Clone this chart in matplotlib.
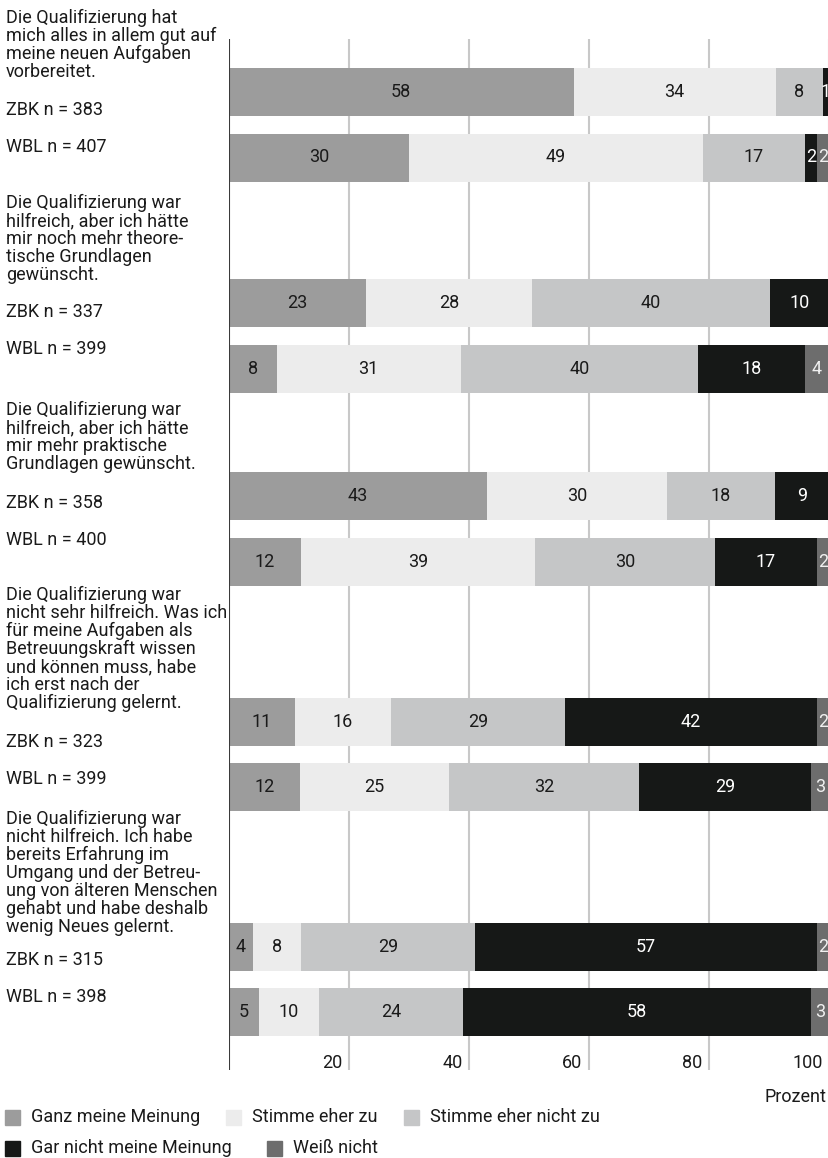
import matplotlib
matplotlib.use('Agg')
import matplotlib.pyplot as plt
from matplotlib.patches import Rectangle
from matplotlib.transforms import blended_transform_factory

plt.rcParams['font.family'] = ['Roboto', 'DejaVu Sans']

categories = ['Ganz meine Meinung', 'Stimme eher zu', 'Stimme eher nicht zu',
              'Gar nicht meine Meinung', 'Weiß nicht']
colors = ['#9c9c9c', '#ececec', '#c5c6c7', '#161817', '#6d6d6d']
label_colors = ['#1a1a1a', '#1a1a1a', '#1a1a1a', '#ffffff', '#f0f0f0']

questions = [
    'Die Qualifizierung hat\nmich alles in allem gut auf\nmeine neuen Aufgaben\nvorbereitet.',
    'Die Qualifizierung war\nhilfreich, aber ich hätte\nmir noch mehr theore-\ntische Grundlagen\ngewünscht.',
    'Die Qualifizierung war\nhilfreich, aber ich hätte\nmir mehr praktische\nGrundlagen gewünscht.',
    'Die Qualifizierung war\nnicht sehr hilfreich. Was ich\nfür meine Aufgaben als\nBetreuungskraft wissen\nund können muss, habe\nich erst nach der\nQualifizierung gelernt.',
    'Die Qualifizierung war\nnicht hilfreich. Ich habe\nbereits Erfahrung im\nUmgang und der Betreu-\nung von älteren Menschen\ngehabt und habe deshalb\nwenig Neues gelernt.',
]
n_zbk = [383, 337, 358, 323, 315]
n_wbl = [407, 399, 400, 399, 398]

# values in percent, order of categories (0 = not shown)
zbk = [
    [58, 34, 8, 1, 0],
    [23, 28, 40, 10, 0],
    [43, 30, 18, 9, 0],
    [11, 16, 29, 42, 2],
    [4, 8, 29, 57, 2],
]
wbl = [
    [30, 49, 17, 2, 2],
    [8, 31, 40, 18, 4],
    [12, 39, 30, 17, 2],
    [12, 25, 32, 29, 3],
    [5, 10, 24, 58, 3],
]
ticks = [20, 40, 60, 80, 100]

# layout (pixels of the 829x1158 canvas)
W, H = 829, 1158
zbk_rows = [0, 3.229, 6.168, 9.618, 13.046]   # row positions in bar pitches
q_first = [17, 202, 409, 594, 818]             # centre of first text line
zbk_lab = [110, 312, 503, 742, 960]
wbl_lab = [147, 349, 540, 779, 997]
fs = 13

fig = plt.figure(figsize=(W / 100, H / 100), dpi=100)
ax_top, ax_bot = 39, 1070
ax = fig.add_axes([229 / W, 1 - ax_bot / H, 600 / W, (ax_bot - ax_top) / H])
pitch = 65.5
ax.set_xlim(0, 100)
ax.set_ylim((ax_bot - 92) / pitch, (ax_top - 92) / pitch)
ax.axis('off')

for t in ticks:
    ax.axvline(t, color='#c8c8c8', lw=1.5, zorder=0)
ax.axvline(0, color='#3a3a3a', lw=1.5, zorder=3)

bh = 48 / pitch
rows = []
for i in range(5):
    rows.append((zbk_rows[i], zbk[i]))
    rows.append((zbk_rows[i] + 1, wbl[i]))

for y, vals in rows:
    total = sum(vals)
    left = 0
    for j, v in enumerate(vals):
        if v == 0:
            continue
        w = v / total * 100
        ax.barh(y, w, left=left, height=bh, color=colors[j], zorder=2)
        ax.text(left + w / 2, y, str(v), ha='center', va='center',
                color=label_colors[j], fontsize=fs, zorder=4)
        left += w

tr = blended_transform_factory(ax.transData, fig.transFigure)
for t in ticks:
    ax.text(t - 1.1, 1 - 1063 / H, str(t), transform=tr, ha='right',
            va='center', fontsize=fs, color='#1a1a1a')
fig.text(827 / W, 1 - 1097 / H, 'Prozent', ha='right', va='center',
         fontsize=fs, color='#1a1a1a')

for i in range(5):
    fig.text(6 / W, 1 - (q_first[i] - 8) / H, questions[i], ha='left',
             va='top', fontsize=fs, linespacing=1.0, color='#1a1a1a')
    fig.text(6 / W, 1 - zbk_lab[i] / H, 'ZBK n = %d' % n_zbk[i], ha='left',
             va='center', fontsize=fs, color='#1a1a1a')
    fig.text(6 / W, 1 - wbl_lab[i] / H, 'WBL n = %d' % n_wbl[i], ha='left',
             va='center', fontsize=fs, color='#1a1a1a')

# legend, flowing in two rows
leg_pos = [(5, 1117), (226, 1117), (404, 1117), (5, 1148), (267, 1148)]
for (lx, ly), c, name in zip(leg_pos, colors, categories):
    fig.patches.append(Rectangle((lx / W, 1 - (ly + 7.5) / H), 15 / W, 15 / H,
                                 transform=fig.transFigure, color=c))
    fig.text((lx + 26) / W, 1 - ly / H, name, ha='left', va='center',
             fontsize=fs, color='#1a1a1a')

fig.savefig('out.png', dpi=100)
